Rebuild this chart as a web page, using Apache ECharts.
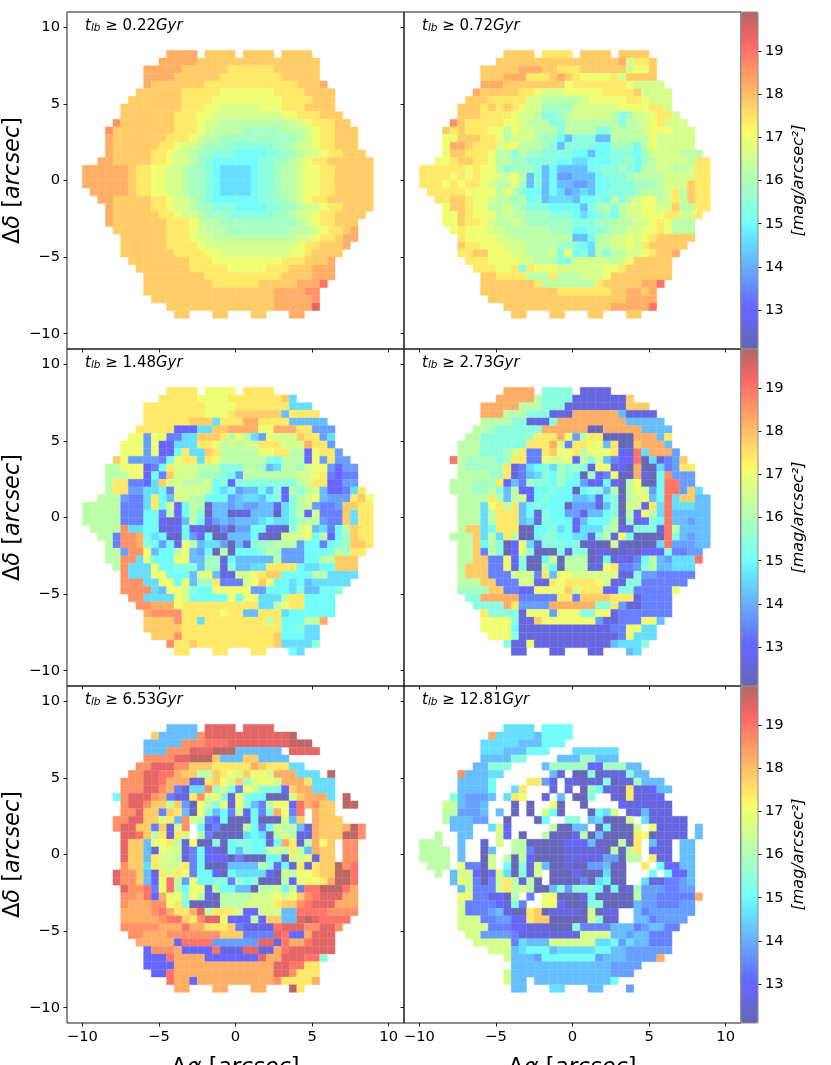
<!DOCTYPE html>
<html>
<head>
<meta charset="utf-8">
<style>
  html, body { margin: 0; padding: 0; background: #fff; overflow: hidden; }
  #chart { width: 831px; height: 1065px; }
</style>
<script src="https://cdn.jsdelivr.net/npm/echarts@6/dist/echarts.min.js"></script>
</head>
<body>
<div id="chart"></div>
<script>
// each character is one 0.5 arcsec spaxel: '.' is empty, otherwise base-20 step of magStep above magBase
const magBase = 12.2
const magStep = 0.4

const ages = ['0.22', '0.72', '1.48', '2.73', '6.53', '12.81']
const xTicks = [-10, -5, 0, 5, 10]
const yTicks = [-10, -5, 0, 5, 10]
const barTicks = [13, 14, 15, 16, 17, 18, 19]

const map022 = [
  '...........ffff.eeee.eeee.eeee',
  '..........fffffeeeeeeeeeeeeeeee',
  '........fffffeeeeeeddddddeeeeee',
  '........ffffeeeeeeddddddddeeeee',
  '........feeeeeeeddddddddddddeeef',
  '.......eeeeeedddddcccccccddddeeee',
  '......eeeeeeeddddcccccccccddddeee',
  '.....eeeeeeeedddccbbbbbcccdddeeee',
  '.....eeeeeeedddccbbbbbbbbbccdddeee',
  '....geeeeeeedddcbbaaaaaaaaabbcdddee',
  '...geeeeeeeedddcbaaaa99999aaabcddeee',
  '...feeeeeeedddcbaa9999999999abcddeee',
  '...feeeeeeddcbba99988888899abbcddeee',
  '...feeeeeddcbba9988877778899abbcddeee',
  '..ffeeeeeddcbba987777778899abcddeeeeee',
  'ffffffeddccbba998766667889aabccddeeeee',
  'ffffffeddccbba998766667889aabccddeeeee',
  'ffffffeddccbba998766667889aabccddeeeee',
  '.fffffeddccbba998766667889aabccddeeeee',
  '..ffeeeeeddcbba987777778899abcddeeeeee',
  '...feeeeeddcbba9988877778899abbcddeeee',
  '...feeeeeeddcbba99988888899abbcddeeee',
  '...feeeeeeedddcbaa9999999999abcddeee',
  '....eeeeeeedddcbaaa99999999aaabcddef',
  '.....eeeeeedddcbbaaaaaaaaaaabbcddeff',
  '.....eeeeeeddddcbbbbbbbbbbbbcddeeef',
  '.....eeeeeeeddddccbbbbbbbbbccdeeee',
  '......eeeeeeeedddcccccccccdddeeef',
  '.......eeeeeeedddddcccccdddeeefff',
  '........eeeeeeeeddddddddddeeeefff',
  '........eeeeeeeeeddddddeeeeefffh',
  '........eeeeeeeeeeeeeeeeeffffgg',
  '.........eeeeeeeeeeeeeeeefffffg',
  '...........eeeeeeeeeeeeeefffffi',
  '............ee...ee...ee...ff'
]

const map072 = [
  '...........eeee.dddd.eeee.eeee',
  '..........eeeeeeeeeeeeeeeefbdde',
  '........eeeeefffeedddeeeeeebcce',
  '........eeefffdddefedccccdbeeee',
  '........fffeeeeeeeecdddddddcbbbb',
  '.......feeeeeddcbbbcccccddddebbbb',
  '......eeedddddbbaaaaabcccccddcbbb',
  '.....eeedededcbb9999bbbbbbccccddb',
  '.....eeeddddcbba889abbbbba89bbcddb',
  '....gedddddccbaaa88aaaaaaa8aabcdbbb',
  '...ededddccacbbaaa8aaaa88aaaabcccbbb',
  '...cceeeddcabbba997588855aaaaacbbbbb',
  '...cffedddbccaaa9858888779997acbbbbb',
  '...ceedddcaa8a9988887757788879bbbbaaa',
  '..ccdeeddcaa998888776677788979abbbbadd',
  'ddddddcdcca899985755557888987aabbaabdd',
  'ddddcdcdccbbca58574455578889aaaabbbbdd',
  'dddcdcddcbaac958575544577888999abbbedd',
  '.dddddccccaca8775764565788889aaabdaedd',
  '..ddeedccbaa9a78566657787a8abccabdaedd',
  '...ceedccaaba98887777589a8abbccbbeaadd',
  '...ccedcccabaa999888767897abbcccddbbd',
  '...cceddcbaaba99999988899aaabbcdcaaa',
  '....cdcccbbaaaaaa99977889aabbccdcaaa',
  '.....dccccbbaaaaaaaa557aabbcbcdeeeee',
  '.....eddcccbbbaaaa99876aabbcbdeeeee',
  '.....ddeecccbbaaab8c786a8aabbcdeef',
  '......dddccccbbaaa88bbbbbabceeeee',
  '.......dddccd8dcccbbbbbbccdeeeeee',
  '........eeddddaaadaaabbbceeeeeeee',
  '........eeeeeeedaaaaaaadeeeeeffh',
  '........eeeeeeeeeedddddddeeffef',
  '.........eeeeeeeeeeeeeeeeeeffff',
  '...........eeeeeeeeeeeeeefffffh',
  '............ee...ee...ee...ee'
]

const map148 = [
  '...........dddd.cccc.dddd',
  '..........dddddccccddddddde6',
  '........ddddddddccccddddddd666',
  '........ddddddddcccdeeeeee5dddd',
  '........ddddddeee6dddffdddd55555',
  '.......ddddd22266eeffffccfffdd444',
  '......cc4cc3366eeedaca64cbbbedd46',
  '.....ccc4c22666ddcababbdddbbbfdd4',
  '.....ccc4c227d66edaaaaaccddaa2cdd4',
  '....ec444437cdd6dcaaaaaa87aaa2c4d44',
  '...aaccc237dbbbaaa888aa956aa9bcc4244',
  '...aaacc273ebbb999874aaaaaaabbcd3233',
  '...add3326ebbaaab78288888888abdd2244',
  '...add446673bbbba7674557582a8ab52236d',
  '..aaa4336d75bbaa777456657828abc5444dec',
  'aaaaa3336d7b27aa155454455268ab4334eedd',
  'aaaaa333773a27a8055011555068a2b333e6dd',
  'aaaaa333772115a72454555676689aa433e6dd',
  '.aaaag6677112721003044771108bc5637aedd',
  '..aa3ggf767107427005557100bbbc7a279edd',
  '...a3ggf87472ca5664051899aaa4773789eed',
  '...aa4ggc577ac5470a07778a94447778a9dd',
  '...aagg6c777cc55991755555a44477aaeee',
  '....ag666c77888599185566dddd76677eee',
  '.....g666cc7775bc511bbcdee7777aa6666',
  '.....ggg66cc7c599d333bcec7767566666',
  '.....gggg65ccb877ccccc447776855778',
  '......gg6666cb77777c7cc666add7777',
  '.......ggfffcdddddddddd66acdd7777',
  '........fggggdddddcdd55ddd6777777',
  '........eeeegdd6ddddddddad777aaf',
  '........eeeeeddddddddddddd77866',
  '.........eeegdddddddddddde77766',
  '...........gddedddddddddde66668',
  '............dd...dd...dd...76'
]

const map273 = [
  '...........ffff.8888.1111',
  '..........fffffa88881111111e',
  '........fffffaaa88811111111eee',
  '........fffaaa888111ffffff51111',
  '........aaaa881118fffffffff55555',
  '.......aa9888888ffffff00fffff5555',
  '......aa8888889dddfc4add0000fff5d',
  '.....aaa888888dddfb3ddcc5d00efff5',
  '.....aaa8889bd33deccdacccd21h6fff4',
  '....ha999989dd33cbbc2a8b5322h06134e',
  '.....a99999d13678698981cc120f00634dd',
  '.....aaaa99d1356879870923c00f107g444',
  '....aaa999d2539887977422720ac007hh44',
  '....aaa99a85a227787707885a0acb47hh4e6',
  '.....aaaada5ab2787775562780abc57h6ee55',
  '.....aaa6cdad57877704441580bb1d6h66655',
  '.....aaa6addd57187744155780a2ca6h55555',
  '.....aaa6addd561877725777a091287h55455',
  '.....aee67ddd007786726669a118881ha5555',
  '....aaae6a6da00788776618a1c70000h85455',
  '.....aae7a802c61888780100b100006h44455',
  '.....aae3a802c80008188011001022283344',
  '.....aaee33c28007b0aaa01712137a54666h',
  '.....aeee33c1800a70aaa11cd3348a55666',
  '.....aeee333bbb3d5ccbbbbbb1184433333',
  '.....aaaee333bb11dcddddcb1188333333',
  '.....9999ee3322ccccebddd228833333c',
  '......88fffff33333dd3eeeeddd13333',
  '.......8888fd4444ffffff88d4113333',
  '........d88881ccc4ccc88cc13333333',
  '........cccc811eccccccc411333cc5',
  '........cccc711111111111133cc66',
  '.........ccc811111111111113c666',
  '...........811c111111111156668',
  '............11...11...11...56'
]

const map653 = [
  '...........5555.iiii.iiii',
  '.........e55555giiiiiiiiiiij',
  '........55555ggghhhiiiiiiiijjj',
  '........555gggiiijjj555555.iiii',
  '........ggggiijjje555ee5555',
  '.......ggiiiggeeedddddfeddd66',
  '......ggiihhfeeaaedcbeccbfff666.j',
  '.....gggiihfff11decbe9bccbfffd666',
  '.....gggiigf3166g9b83cb8882eff666',
  '....7giiigf311dgbc81c877000befff6.j',
  '.....giigeeae40ca8c1c853acc2hfgee.jj',
  '.....ggiee3ed50c8573b2738fc3h.fee',
  '....ggiieebd5gba3270007000b5e.feee',
  '....giiee3e1bg.713000a737baa51feeefjg',
  '.....iihead1db.a300006760aba11feeejjg',
  '.....iee5ccda1c00807887717fd1afce.gg',
  '.....iee51cbb13721075877abada5fee.gg',
  '.....iee5dbba13722203000770bbc1ee.gg',
  '.....gee6dbbbd370005555a8271d1deejgh',
  '....igge51dbdc377207666620baccdeejjh',
  '....igge52cha4c77883978000a2cccdfjjh',
  '.....iggh3cha7cc1a77550aab7b3hhjjjhf',
  '.....ggfh2fcc8ca10aaaabbbcbceghiiiff',
  '.....gfffggcd80000aaabbbbdeeghiiifff',
  '.....ffffghfddfiadddb22bbb55hhhhgggg',
  '.....fffffghhedgiic222a2ee55ijihhhh',
  '.....gggggfffhffddde31111hiiiggiig',
  '......ggfffgggggggeee3333ih22fiii',
  '.......fffff2hhhh444444ii1hffhiii',
  '........2gggf2222h111ii11fhiiiiii',
  '........222hffff2222222iffiiihh8',
  '........2222fffffffffffffiihhdd',
  '.........22hfffffffffffffiigddd',
  '...........hff2ffffffffffgddddf',
  '............ff...ff...ff...jd'
]

const map1281 = [
  '...........6666.7777',
  '.........f6666657777',
  '........66666555777',
  '........666555777...666666',
  '........555588....55599555',
  '.......55888....5999992299955',
  '.....g55566......51.0080111855',
  '.....55557....dd41.1101180119555',
  '.....55557..6d...1.1.097110d11255',
  '....854445.6dc..1.5.008..10d1112',
  '...ba5445...0.0..c0..0....2111111',
  '...aa4445.5.0.0.b70...076b.115111',
  '...a55544..0...07..88.56000b.611111',
  '....555..6b2.....a0055.07000b.c1111.5',
  '..a..55...b2.0..a0001a050000dc01111.5',
  'aaa..5..1.b.aa000002225000a0d.511.55',
  'aaaa.5..05..aa30000111110a0ad.211.55',
  'aaaa.5..0b.a0a2000011111440aa.d11.55',
  '.aaa.c330b.7081b50010044500..d.72255',
  '..a.5bb202b6081b.0002000600...7.7225',
  '....5cb303bda1a0.0000306700..6113345',
  '.....5b333bdaba005848887070194443344',
  '.....cc33120a.3.cc0001700000a4433333f',
  '.....b33332183..cc200088000054433344',
  '.....b33345100de011110b011..53444444',
  '.....bbb334422dee00000b801..5534444',
  '.....bbbb3332211100083333555345533',
  '......bb4444311111111bbbb55455333',
  '.......bbbbb36555bbbbbb6674655333',
  '.........bbb567775666667755444444',
  '...........b5554777777745554444f',
  '............55555555555554444',
  '...........b5555555555555444',
  '...........b55.55555555557',
  '............55...66...55...4'
]

const panelMaps = [map022, map072, map148, map273, map653, map1281]

// jet with alpha 0.6 over white
function jetColors(n) {
  const stops = [
    [0, 0, 0, 0.5], [0.11, 0, 0, 1], [0.125, 0, 0, 1], [0.34, 0, 0.86, 1], [0.375, 0.08, 1, 0.96],
    [0.64, 0.93, 1, 0.03], [0.66, 1, 0.93, 0], [0.89, 1, 0.07, 0], [0.91, 0.97, 0, 0], [1, 0.5, 0, 0]
  ]
  const out = []
  for (let i = 0; i < n; i++) {
    const t = i / (n - 1)
    let k = 0
    while (k < stops.length - 2 && t > stops[k + 1][0]) k++
    const a = stops[k]
    const b = stops[k + 1]
    const f = (t - a[0]) / (b[0] - a[0])
    const rgb = [1, 2, 3].map(j => Math.round((a[j] + (b[j] - a[j]) * f) * 255 * 0.6 + 255 * 0.4))
    out.push('rgb(' + rgb.join(',') + ')')
  }
  return out
}

// rows run from y = 8.5 downwards, columns from x = -10
function toCells(rows) {
  const cells = []
  rows.forEach((row, r) => {
    row.split('').forEach((ch, c) => {
      if (ch !== '.') cells.push([-10 + c * 0.5, 8 - r * 0.5, magBase + parseInt(ch, 20) * magStep])
    })
  })
  return cells
}

const panelLeft = [67, 404]
const panelTop = [12, 349, 686]
const panelSize = 337
const barLeft = 741
const barWidth = 17
const colormap = jetColors(129)
const labelFont = 'DejaVu Sans'
const axisColor = '#1a1a1a'

const fmt = v => String(v).replace('-', '\u2212')

const grids = []
const xAxes = []
const yAxes = []
const series = []
const titles = []
const visualMaps = []

const axisNameRich = {
  u: { fontFamily: labelFont, fontSize: 22.5, color: '#000' },
  i: { fontFamily: labelFont, fontSize: 22.5, fontStyle: 'italic', color: '#000' }
}

panelMaps.forEach((rows, k) => {
  const col = k % 2
  const row = Math.floor(k / 2)
  grids.push({
    left: panelLeft[col], top: panelTop[row], width: panelSize, height: panelSize,
    outerBoundsMode: 'none',
    show: true, borderColor: axisColor, borderWidth: 1, backgroundColor: 'transparent'
  })
  xAxes.push({
    gridIndex: k, type: 'value', min: -11, max: 11,
    axisLine: { show: false, onZero: false },
    axisTick: { show: true, customValues: xTicks, length: 3.5, lineStyle: { color: axisColor } },
    axisLabel: {
      show: row === 2, customValues: xTicks, formatter: fmt, margin: 7,
      fontFamily: labelFont, fontSize: 14.7, color: '#000'
    },
    splitLine: { show: false },
    name: row === 2 ? '{u|\u0394}{i|\u03b1}{u| [}{i|arcsec}{u|]}' : '',
    nameLocation: 'middle', nameGap: 34,
    nameTextStyle: { rich: axisNameRich }
  })
  yAxes.push({
    gridIndex: k, type: 'value', min: -11, max: 11,
    axisLine: { show: false, onZero: false },
    axisTick: { show: true, customValues: yTicks, length: 3.5, lineStyle: { color: axisColor } },
    axisLabel: {
      show: col === 0, customValues: yTicks, formatter: fmt, margin: 7,
      fontFamily: labelFont, fontSize: 14.7, color: '#000'
    },
    splitLine: { show: false },
    name: col === 0 ? '{u|\u0394}{i|\u03b4}{u| [}{i|arcsec}{u|]}' : '',
    nameLocation: 'middle', nameGap: 38, nameRotate: 90,
    nameTextStyle: { rich: axisNameRich }
  })
  series.push({
    type: 'custom',
    xAxisIndex: k,
    yAxisIndex: k,
    data: toCells(rows),
    encode: { x: 0, y: 1 },
    silent: true,
    renderItem(params, api) {
      const a = api.coord([api.value(0), api.value(1) + 0.5])
      const b = api.coord([api.value(0) + 0.5, api.value(1)])
      return {
        type: 'rect',
        shape: { x: a[0], y: a[1], width: b[0] - a[0], height: b[1] - a[1] },
        style: { fill: api.visual('color'), stroke: api.visual('color'), lineWidth: 0.3 }
      }
    }
  })
  titles.push({
    text: '{i|t}{s|lb}{n| \u2265 ' + ages[k] + '}{i|Gyr}',
    left: panelLeft[col] + 13,
    top: panelTop[row] + 1,
    textStyle: {
      fontWeight: 'normal',
      rich: {
        i: { fontFamily: labelFont, fontSize: 15, fontStyle: 'italic', fontWeight: 'normal', color: '#000' },
        n: { fontFamily: labelFont, fontSize: 15, fontWeight: 'normal', color: '#000' },
        s: { fontFamily: labelFont, fontSize: 10.5, fontStyle: 'italic', fontWeight: 'normal', color: '#000', padding: [5, 0, 0, 0] }
      }
    }
  })
})

panelTop.forEach((top, row) => {
  const g = grids.length
  grids.push({
    left: barLeft, top: top, width: barWidth, height: panelSize,
    outerBoundsMode: 'none',
    show: true, borderColor: '#8c8c8c', borderWidth: 1, backgroundColor: 'transparent', z: 10
  })
  xAxes.push({ gridIndex: g, type: 'value', min: 0, max: 1, show: false })
  yAxes.push({
    gridIndex: g, type: 'value', position: 'right', min: 12.1, max: 19.9,
    axisLine: { show: false, onZero: false },
    axisTick: { show: true, customValues: barTicks, length: 3.5, lineStyle: { color: axisColor } },
    axisLabel: {
      customValues: barTicks, margin: 7,
      fontFamily: labelFont, fontSize: 14.7, color: '#000'
    },
    splitLine: { show: false },
    name: '[mag/arcsec\u00b2]',
    nameLocation: 'middle', nameGap: 33, nameRotate: 90,
    nameTextStyle: { fontFamily: labelFont, fontSize: 16, fontStyle: 'italic', color: '#000' }
  })
  visualMaps.push({
    type: 'continuous',
    seriesIndex: [row * 2, row * 2 + 1],
    dimension: 2,
    min: 12.1,
    max: 19.9,
    calculable: false,
    hoverLink: false,
    left: barLeft,
    top: top,
    padding: 0,
    itemWidth: barWidth,
    itemHeight: panelSize,
    text: null,
    showLabel: false,
    inRange: { color: colormap }
  })
})

const chart = echarts.init(document.getElementById('chart'), null, { renderer: 'canvas' })
chart.setOption({
  animation: false,
  backgroundColor: '#fff',
  title: titles,
  grid: grids,
  xAxis: xAxes,
  yAxis: yAxes,
  visualMap: visualMaps,
  series: series
})
window.addEventListener('resize', () => chart.resize())
</script>
</body>
</html>
